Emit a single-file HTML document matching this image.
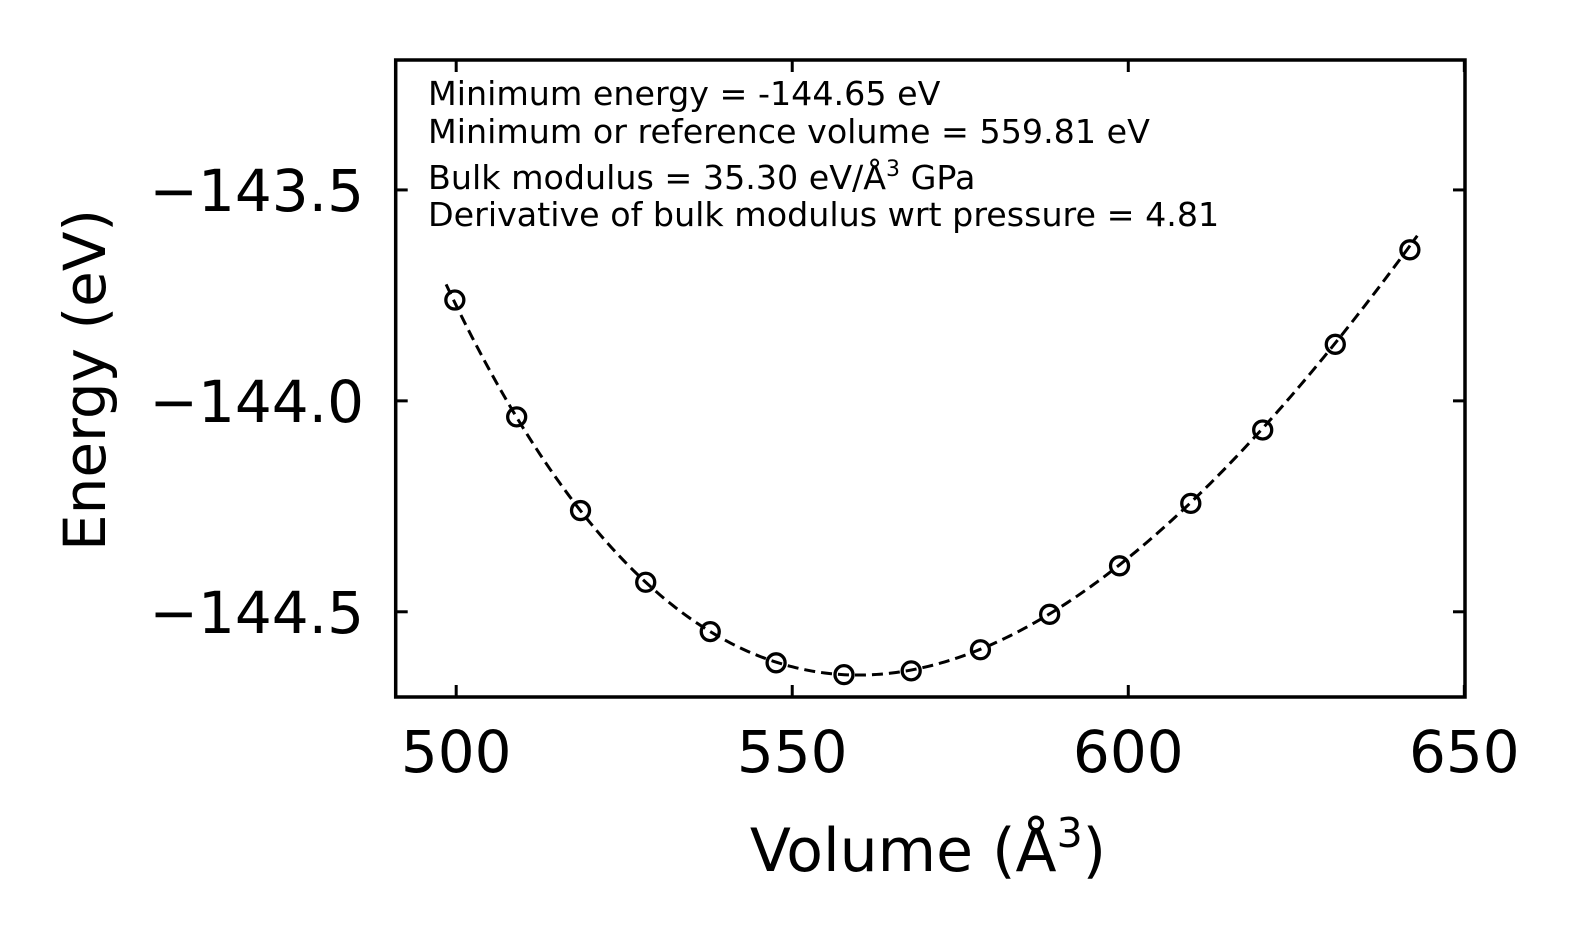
<!DOCTYPE html>
<html><head><meta charset="utf-8"><style>
html,body{margin:0;padding:0;background:#fff;}
svg{display:block;font-family:"DejaVu Sans","Liberation Sans",sans-serif;}
</style></head><body>
<svg id="chart" width="1579" height="943" viewBox="0 0 1579 943" xmlns="http://www.w3.org/2000/svg">
<g id="plot"></g>
</svg>
<script>
const volumes = [499.8, 509.0, 518.5, 528.2, 537.8, 547.6, 557.7, 567.7, 578.0, 588.3, 598.7, 609.3, 620.0, 630.8, 641.9];
const energies = [-143.761, -144.038, -144.260, -144.430, -144.547, -144.621, -144.649, -144.640, -144.590, -144.506, -144.391, -144.243, -144.069, -143.866, -143.642];
const xTicks = [500, 550, 600, 650];
const yTicks = [-143.5, -144.0, -144.5];
const yTickLabels = ["\u2212143.5", "\u2212144.0", "\u2212144.5"];
const fitParams = [-144.65, 559.81, 35.30, 4.81];
const fitRange = [498.5, 643.0];

const L=395.7,R=1465,T=60,B=697;
const xMin=491.0,xMax=650.1,yMin=-144.702,yMax=-143.192;
const sx=v=>L+(v-xMin)/(xMax-xMin)*(R-L);
const sy=e=>B-(e-yMin)/(yMax-yMin)*(B-T);
const NS="http://www.w3.org/2000/svg";
const g=document.getElementById('plot');
function mk(t,a){const e=document.createElementNS(NS,t);for(const k in a)e.setAttribute(k,a[k]);g.appendChild(e);return e;}

const [E0,V0,Bgpa,Bp]=fitParams;const B0=Bgpa/160.21766;
let d="";
for(let i=0;i<=300;i++){const v=fitRange[0]+(fitRange[1]-fitRange[0])*i/300;const eta=Math.pow(V0/v,2/3);
const e=E0+9*V0*B0/16*(Math.pow(eta-1,3)*Bp+Math.pow(eta-1,2)*(6-4*eta));
d+=(i?"L":"M")+sx(v).toFixed(2)+","+sy(e).toFixed(2);}
const fit=mk('path',{d:d,fill:'none',stroke:'#000','stroke-width':3,'stroke-dasharray':'11,6'});



volumes.forEach((v,i)=>{
const c=mk('circle',{cx:sx(v),cy:sy(energies[i]),r:9,fill:'none',stroke:'#000','stroke-width':3.3});


});

const fr=mk('rect',{x:L,y:T,width:R-L,height:B-T,fill:'none',stroke:'#000','stroke-width':3.5});



xTicks.forEach(t=>{
const x=sx(t);
mk('line',{x1:x,y1:B,x2:x,y2:B-12,stroke:'#000','stroke-width':3});
mk('line',{x1:x,y1:T,x2:x,y2:T+12,stroke:'#000','stroke-width':3});
const tx=mk('text',{x:x,y:772,'font-size':58,'text-anchor':'middle'});tx.textContent=t;


});
yTicks.forEach((t,i)=>{
const y=sy(t);
mk('line',{x1:L,y1:y,x2:L+12,y2:y,stroke:'#000','stroke-width':3});
mk('line',{x1:R,y1:y,x2:R-12,y2:y,stroke:'#000','stroke-width':3});
const tx=mk('text',{x:364,y:y+21,'font-size':58,'text-anchor':'end'});tx.textContent=yTickLabels[i];


});

const xl=mk('text',{x:928,y:871,'font-size':60,'text-anchor':'middle'});
xl.innerHTML='Volume (Å<tspan dy="-24" font-size="41">3</tspan><tspan dy="24">)</tspan>';


const yl=mk('text',{x:0,y:0,'font-size':58,'text-anchor':'middle',transform:'translate(105,380) rotate(-90)'});
yl.textContent='Energy (eV)';



const lines=[['Minimum energy = -144.65 eV',105],['Minimum or reference volume = 559.81 eV',143],['Bulk modulus = 35.30 eV/Å<tspan dy="-13" font-size="22">3</tspan><tspan dy="13"> GPa</tspan>',189],['Derivative of bulk modulus wrt pressure = 4.81',226]];
lines.forEach(l=>{
const t=mk('text',{x:428,y:l[1],'font-size':33.3});t.innerHTML=l[0];


});
</script>
</body></html>
